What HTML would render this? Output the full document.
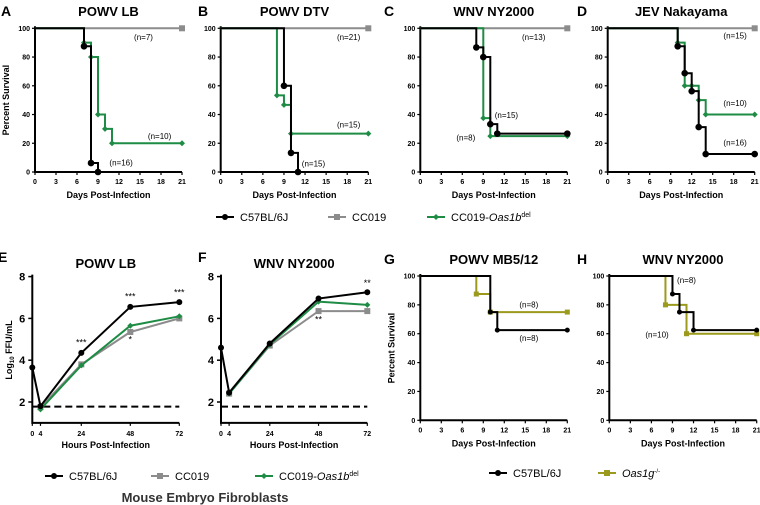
<!DOCTYPE html>
<html><head><meta charset="utf-8"><style>
html,body{margin:0;padding:0;background:#fff;width:760px;height:505px;overflow:hidden}
svg{font-family:"Liberation Sans",Arial,sans-serif;display:block}
</style></head><body>
<svg id="fig" width="760" height="505" viewBox="0 0 760 505" xmlns="http://www.w3.org/2000/svg"></svg>
<script>
// ---- data ----
const survDays=[0,3,6,9,12,15,18,21];
const survPct=[0,20,40,60,80,100];
const aBlackT=[7,8,9], aBlackV=[87.5,6.25,0];
const aGreenT=[7,8,9,10,11], aGreenV=[90,80,40,30,20];
const bBlackT=[9,10,11], bBlackV=[60,13.3,0];
const bGreenT=[8,9,10], bGreenV=[53.3,46.7,26.7];
const cBlackT=[8,9,10,11], cBlackV=[86.7,80,33.3,26.7];
const cGreenT=[9,10], cGreenV=[37.5,25];
const dBlackT=[10,11,12,13,14], dBlackV=[87.5,68.75,56.25,31.25,12.5];
const dGreenT=[10,11,12,13,14], dGreenV=[90,60,60,50,40];
const gBlackT=[10,11], gBlackV=[75,62.5];
const gOliveT=[8,10], gOliveV=[87.5,75];
const hBlackT=[9,10,12], hBlackV=[87.5,75,62.5];
const hOliveT=[8,11], hOliveV=[80,60];
const hours=[0,4,24,48,72];
const logTicks=[2,4,6,8];
const eBlack=[3.65,1.8,4.35,6.55,6.78];
const eGray=[null,1.75,3.8,5.35,6.0];
const eGreen=[null,1.65,3.75,5.65,6.1];
const fBlack=[4.6,2.45,4.8,6.95,7.25];
const fGray=[null,2.4,4.7,6.35,6.35];
const fGreen=[null,2.4,4.75,6.8,6.65];
const lod=1.78;

const BLACK="#000",GRAY="#8c8c8c",GREEN="#1e8c44",OLIVE="#9c9a1c";
const svg=document.getElementById('fig');
const NS="http://www.w3.org/2000/svg";
function el(tag,attrs,parent,text){const e=document.createElementNS(NS,tag);for(const k in attrs)e.setAttribute(k,attrs[k]);if(text!==undefined)e.textContent=text;(parent||svg).appendChild(e);return e;}
function txt(x,y,s,size,opt,name,parent){opt=opt||{};const t=el('text',Object.assign({x:x,y:y,'font-size':size,'text-anchor':opt.anchor||'middle','font-weight':opt.bold?'bold':'normal',fill:opt.fill||'#000'},opt.extra||{}),parent,s);


return t;}
function marker(g,x,y,type,color,r){let m;
if(type==='dot'){m=el('circle',{cx:x,cy:y,r:r||3,fill:color},g);}
else if(type==='square'){m=el('rect',{x:x-(r||3),y:y-(r||3),width:2*(r||3),height:2*(r||3),fill:color},g);}
else {m=el('path',{d:`M${x-3} ${y}L${x} ${y-3}L${x+3} ${y}L${x} ${y+3}Z`,fill:color},g);}


}

function survivalPanel(o){
 const g=el('g',{});
 
 
 const X=d=>o.x0+(o.x1-o.x0)*d/21, Y=v=>o.y0+(o.y100-o.y0)*v/100;
 const ax=el('path',{d:`M${o.x0} ${o.y100-2}V${o.y0}H${o.x1}`,stroke:'#000','stroke-width':2,fill:'none'},g);
 
 
 survPct.forEach(p=>{el('line',{x1:o.x0-3,x2:o.x0,y1:Y(p),y2:Y(p),stroke:'#000','stroke-width':1.2},g);txt(o.x0-5,Y(p)+2.5,String(p),7,{anchor:'end',bold:true},'y-tick-label',g);});
 survDays.forEach(d=>{el('line',{x1:X(d),x2:X(d),y1:o.y0,y2:o.y0+3,stroke:'#000','stroke-width':1.2},g);txt(X(d),o.y0+12,String(d),7,{bold:true},'x-tick-label',g);});
 txt((o.x0+o.x1)/2,o.y0+26,'Days Post-Infection',9,{bold:true},'x-axis-title',g);
 txt((o.x0+o.x1)/2,o.titleY,o.title,13,{bold:true},'panel-title',g);
 txt(o.letterX,o.titleY,o.letter,14,{bold:true,anchor:'start'},'panel-letter',g);
 if(o.ylab) txt(0,0,'Percent Survival',9,{bold:true,extra:{transform:`translate(${o.x0-26},${(o.y0+o.y100)/2}) rotate(-90)`}},'y-axis-title',g);
 o.series.forEach(s=>{
  let d=`M${X(0)} ${Y(100)}`,prev=100;
  s.t.forEach((t,i)=>{d+=`H${X(t)}V${Y(s.v[i])}`;prev=s.v[i];});
  if(prev>0) d+=`H${X(21)}`;
  const p=el('path',{d:d,stroke:s.color,'stroke-width':s.w||2,fill:'none'},g);
  
  
  s.t.forEach((t,i)=>marker(g,X(t),Y(s.v[i]),s.m,s.color,s.r));
  if(prev>0) marker(g,X(21),Y(prev),s.m,s.color,s.r);
 });
 (o.notes||[]).forEach(n=>txt(X(n[0]),Y(n[1]),n[2],8,{},'n-label',g));
}
const cfgTop={y0:172,y100:28.3,titleY:16};
survivalPanel(Object.assign({name:'panel-a',x0:35,x1:182,title:'POWV LB',letter:'A',letterX:1,ylab:true,
 series:[{name:'cc019-line',t:[],v:[],color:GRAY,m:'square'},{name:'cc019-oas1b-line',t:aGreenT,v:aGreenV,color:GREEN,m:'diamond',r:3.3},{name:'c57-line',t:aBlackT,v:aBlackV,color:BLACK,m:'dot',r:3.3}],
 notes:[[15.5,92,'(n=7)'],[17.8,23,'(n=10)'],[12.3,4.5,'(n=16)']]},cfgTop));
survivalPanel(Object.assign({name:'panel-b',x0:220.7,x1:368.3,title:'POWV DTV',letter:'B',letterX:198,
 series:[{name:'cc019-line',t:[],v:[],color:GRAY,m:'square'},{name:'cc019-oas1b-line',t:bGreenT,v:bGreenV,color:GREEN,m:'diamond',r:3.3},{name:'c57-line',t:bBlackT,v:bBlackV,color:BLACK,m:'dot',r:3.3}],
 notes:[[18.2,92,'(n=21)'],[18.2,31,'(n=15)'],[13.2,4,'(n=15)']]},cfgTop));
survivalPanel(Object.assign({name:'panel-c',x0:420.3,x1:567.3,title:'WNV NY2000',letter:'C',letterX:384,
 series:[{name:'cc019-line',t:[],v:[],color:GRAY,m:'square'},{name:'cc019-oas1b-line',t:cGreenT,v:cGreenV,color:GREEN,m:'diamond',r:3.3},{name:'c57-line',t:cBlackT,v:cBlackV,color:BLACK,m:'dot',r:3.3}],
 notes:[[16.2,92,'(n=13)'],[12.3,37.5,'(n=15)'],[6.5,22,'(n=8)']]},cfgTop));
survivalPanel(Object.assign({name:'panel-d',x0:607.7,x1:754.7,title:'JEV Nakayama',letter:'D',letterX:577,
 series:[{name:'cc019-line',t:[],v:[],color:GRAY,m:'square'},{name:'cc019-oas1b-line',t:dGreenT,v:dGreenV,color:GREEN,m:'diamond',r:3.3},{name:'c57-line',t:dBlackT,v:dBlackV,color:BLACK,m:'dot',r:3.3}],
 notes:[[18.2,93,'(n=15)'],[18.2,46,'(n=10)'],[18.2,18.5,'(n=16)']]},cfgTop));
const cfgBot={y0:420.3,y100:276,titleY:264};
survivalPanel(Object.assign({name:'panel-g',x0:420.3,x1:567.3,title:'POWV MB5/12',letter:'G',letterX:384,ylab:true,
 series:[{name:'oas1g-line',t:gOliveT,v:gOliveV,color:OLIVE,m:'square',r:2.5},{name:'c57-line',t:gBlackT,v:gBlackV,color:BLACK,m:'dot',r:2.5}],
 notes:[[15.5,78,'(n=8)'],[15.5,55,'(n=8)']]},cfgBot));
survivalPanel(Object.assign({name:'panel-h',x0:609.3,x1:756.7,title:'WNV NY2000',letter:'H',letterX:577,
 series:[{name:'oas1g-line',t:hOliveT,v:hOliveV,color:OLIVE,m:'square',r:2.5},{name:'c57-line',t:hBlackT,v:hBlackV,color:BLACK,m:'dot',r:2.5}],
 notes:[[11,95,'(n=8)'],[6.8,57.5,'(n=10)']]},cfgBot));

function growthPanel(o){
 const g=el('g',{});
 
 
 const X=h=>o.x0+(o.x1-o.x0)*h/72, Y=v=>402-(v-2)*20.9;
 const ax=el('path',{d:`M${o.x0} ${Y(8)-2}V${Y(1)}H${o.x1}`,stroke:'#000','stroke-width':2,fill:'none'},g);
 
 
 logTicks.forEach(t=>{el('line',{x1:o.x0-4,x2:o.x0,y1:Y(t),y2:Y(t),stroke:'#000','stroke-width':1.5},g);txt(o.x0-7,Y(t)+4,String(t),11,{anchor:'end',bold:true},'y-tick-label',g);});
 hours.forEach(h=>{el('line',{x1:X(h),x2:X(h),y1:Y(1),y2:Y(1)+3,stroke:'#000','stroke-width':1.2},g);txt(X(h),Y(1)+13,String(h),7,{bold:true},'x-tick-label',g);});
 const lodL=el('line',{x1:X(0),x2:X(72),y1:Y(lod),y2:Y(lod),stroke:'#000','stroke-width':2,'stroke-dasharray':'7,4'},g);
 
 
 txt((o.x0+o.x1)/2,448,'Hours Post-Infection',9,{bold:true},'x-axis-title',g);
 txt((o.x0+o.x1)/2,o.titleY,o.title,13,{bold:true},'panel-title',g);
 txt(o.letterX,o.titleY-6,o.letter,14,{bold:true,anchor:'start'},'panel-letter',g);
 o.series.forEach(s=>{
  const pts=[];s.v.forEach((v,i)=>{if(v!==null)pts.push([X(hours[i]),Y(v)]);});
  const p=el('polyline',{points:pts.map(p=>p.join(',')).join(' '),stroke:s.color,'stroke-width':2,fill:'none'},g);
  
  
  pts.forEach(q=>marker(g,q[0],q[1],s.m,s.color,3));
 });
 (o.stars||[]).forEach(s=>txt(X(s[0]),Y(s[1]),s[2],9,{},'significance-stars',g));
}
growthPanel({name:'panel-e',x0:32.3,x1:179.3,title:'POWV LB',letter:'E',letterX:-2,titleY:268,
 series:[{name:'cc019-line',v:eGray,color:GRAY,m:'square'},{name:'cc019-oas1b-line',v:eGreen,color:GREEN,m:'diamond'},{name:'c57-line',v:eBlack,color:BLACK,m:'dot'}],
 stars:[[24,4.7,'***'],[48,6.9,'***'],[72,7.1,'***'],[48,4.85,'*']]});
growthPanel({name:'panel-f',x0:221,x1:367.3,title:'WNV NY2000',letter:'F',letterX:198,titleY:268,
 series:[{name:'cc019-line',v:fGray,color:GRAY,m:'square'},{name:'cc019-oas1b-line',v:fGreen,color:GREEN,m:'diamond'},{name:'c57-line',v:fBlack,color:BLACK,m:'dot'}],
 stars:[[72,7.55,'**'],[48,5.8,'**']]});
const yt=txt(0,0,'',9,{bold:true,extra:{transform:'translate(12,350) rotate(-90)'}},'y-axis-title');
yt.innerHTML='Log<tspan font-size="6" dy="2">10</tspan><tspan dy="-2"> FFU/mL</tspan>';

function legendItem(x,y,color,m,label,name,italicHTML){
 const g=el('g',{});
 
 
 el('line',{x1:x,x2:x+18,y1:y,y2:y,stroke:color,'stroke-width':2},g);
 marker(g,x+9,y,m,color,3);
 const t=txt(x+24,y+4,'',11,{anchor:'start'},'legend-label',g);
 t.innerHTML=italicHTML||label;
}
legendItem(216,217,BLACK,'dot','C57BL/6J','legend-c57');
legendItem(328,217,GRAY,'square','CC019','legend-cc019');
legendItem(427,217,GREEN,'diamond','','legend-cc019-oas1b','CC019-<tspan font-style="italic">Oas1b</tspan><tspan font-size="7" dy="-4">del</tspan>');
legendItem(45,476,BLACK,'dot','C57BL/6J','legend-c57-mef');
legendItem(151,476,GRAY,'square','CC019','legend-cc019-mef');
legendItem(255,476,GREEN,'diamond','','legend-cc019-oas1b-mef','CC019-<tspan font-style="italic">Oas1b</tspan><tspan font-size="7" dy="-4">del</tspan>');
txt(205,502,'Mouse Embryo Fibroblasts',13,{bold:true,fill:'#333'},'mef-caption');
legendItem(489,473,BLACK,'dot','C57BL/6J','legend-c57-g');
legendItem(598,473,OLIVE,'square','','legend-oas1g','<tspan font-style="italic">Oas1g</tspan><tspan font-size="6" dy="-4">-/-</tspan>');
</script>
</body></html>
